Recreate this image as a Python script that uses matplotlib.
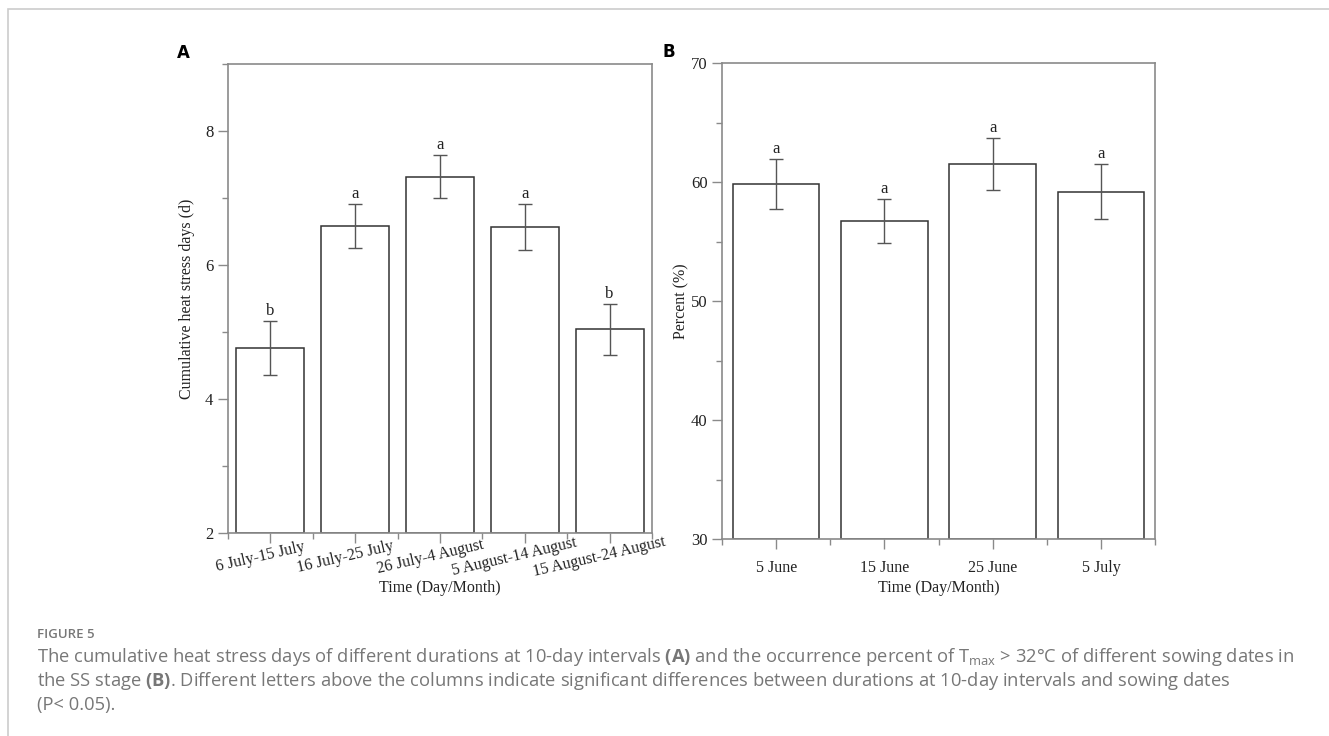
import matplotlib
matplotlib.use("Agg")
import matplotlib.pyplot as plt
from matplotlib.ticker import MultipleLocator, FixedLocator
from matplotlib.patches import Rectangle
from matplotlib.transforms import ScaledTranslation

# panel A data: cumulative heat stress days
periods = ["6 July-15 July", "16 July-25 July", "26 July-4 August",
           "5 August-14 August", "15 August-24 August"]
heat_days = [4.76, 6.58, 7.32, 6.57, 5.04]
heat_err = [0.40, 0.33, 0.32, 0.34, 0.38]
heat_letters = ["b", "a", "a", "a", "b"]

# panel B data: occurrence percent of Tmax > 32C
sowing = ["5 June", "15 June", "25 June", "5 July"]
pct = [59.8, 56.7, 61.5, 59.2]
pct_err = [2.1, 1.85, 2.2, 2.3]
pct_letters = ["a", "a", "a", "a"]

serif = "Liberation Serif"
spine_col = "#8a8a8a"
txt_col = "#222222"

plt.rcParams["mathtext.fontset"] = "custom"
plt.rcParams["mathtext.rm"] = "Open Sans"
plt.rcParams["mathtext.bf"] = "Open Sans:bold"

fig = plt.figure(figsize=(13.29, 7.36), dpi=100)

# light frame of the page
fig.patches.append(Rectangle((8 / 1329, -0.1), 1.2, 1 - 9 / 736 + 0.1,
                             transform=fig.transFigure, fill=False,
                             edgecolor="#cccccc", lw=1.2))


def draw_panel(ax, labels, vals, errs, letters, ylim, major, minor, ylabel, off):
    x = list(range(len(labels)))
    ax.bar(x, [v - ylim[0] for v in vals], bottom=ylim[0], width=0.8,
           color="white", edgecolor="#333333", linewidth=1.1, zorder=2)
    ax.errorbar(x, vals, yerr=errs, fmt="none", ecolor="#555555",
                elinewidth=1.0, capsize=5, capthick=1.0, zorder=3)
    for xi, v, e, l in zip(x, vals, errs, letters):
        ax.text(xi, v + e + off, l, ha="center", va="bottom",
                fontsize=12, family=serif, color=txt_col)
    ax.set_xlim(-0.5, len(labels) - 0.5)
    ax.set_ylim(*ylim)
    ax.yaxis.set_major_locator(MultipleLocator(major))
    ax.yaxis.set_minor_locator(MultipleLocator(minor))
    ax.set_xticks(x)
    ax.xaxis.set_minor_locator(FixedLocator([i - 0.5 for i in range(len(labels) + 1)]))
    for t in ax.get_yticklabels():
        t.set_fontsize(12)
        t.set_family(serif)
    ax.tick_params(which="major", direction="out", length=7, width=1, color=spine_col,
                   labelcolor=txt_col)
    ax.tick_params(which="minor", direction="out", length=4, width=1, color=spine_col)
    for s in ax.spines.values():
        s.set_color(spine_col)
        s.set_linewidth(1.2)
    ax.set_ylabel(ylabel, fontsize=11.5, family=serif, color=txt_col)


axA = fig.add_axes([228 / 1329, 1 - 533 / 736, 424 / 1329, 469 / 736])
draw_panel(axA, periods, heat_days, heat_err, heat_letters, (2, 9), 2, 1,
           "Cumulative heat stress days (d)", 0.03)
# slanted period labels, sitting a little left of their ticks
axA.set_xticklabels([])
lab_off = ScaledTranslation(-10 / 100, -24 / 100, fig.dpi_scale_trans)
for i, p in enumerate(periods):
    axA.text(i, 0, p, rotation=13, rotation_mode="anchor", ha="center", va="center",
             fontsize=11.5, family=serif, color=txt_col,
             transform=axA.get_xaxis_transform() + lab_off)
axA.set_xlabel("Time (Day/Month)", fontsize=11.5, family=serif, color=txt_col, va="center")
axA.xaxis.set_label_coords(0.5, -(588 - 533) / 469)
axA.yaxis.labelpad = 7

axB = fig.add_axes([722 / 1329, 1 - 539 / 736, 433 / 1329, 476 / 736])
draw_panel(axB, sowing, pct, pct_err, pct_letters, (30, 70), 10, 5,
           "Percent (%)", 0.2)
axB.set_xticklabels(sowing, fontsize=11.5, family=serif)
axB.tick_params(axis="x", which="major", pad=8)
axB.set_xlabel("Time (Day/Month)", fontsize=11.5, family=serif, color=txt_col,
               labelpad=3)
axB.yaxis.labelpad = 1

fig.text(183 / 1329, 1 - 53 / 736, "A", fontsize=12, fontweight="bold",
         family="DejaVu Sans", ha="center", va="center")
fig.text(669 / 1329, 1 - 52 / 736, "B", fontsize=12, fontweight="bold",
         family="DejaVu Sans", ha="center", va="center")

# caption
cap_col = "#777777"
fig.text(37 / 1329, 1 - 635 / 736, "FIGURE 5", fontsize=9.5, family="Open Sans",
         fontweight="semibold", color=cap_col, va="center")
fig.text(37 / 1329, 1 - 657 / 736,
         "The cumulative heat stress days of different durations at 10-day intervals $\\bf{(A)}$ "
         "and the occurrence percent of T$_{\\rm max}$ > 32°C of different sowing dates in",
         fontsize=13.2, family="Open Sans", color=cap_col, va="center")
fig.text(37 / 1329, 1 - 681 / 736,
         "the SS stage $\\bf{(B)}$. Different letters above the columns indicate significant "
         "differences between durations at 10-day intervals and sowing dates",
         fontsize=13.2, family="Open Sans", color=cap_col, va="center")
fig.text(37 / 1329, 1 - 705 / 736, "(P< 0.05).", fontsize=13.2, family="Open Sans",
         color=cap_col, va="center")

fig.savefig("out.png", dpi=100)
